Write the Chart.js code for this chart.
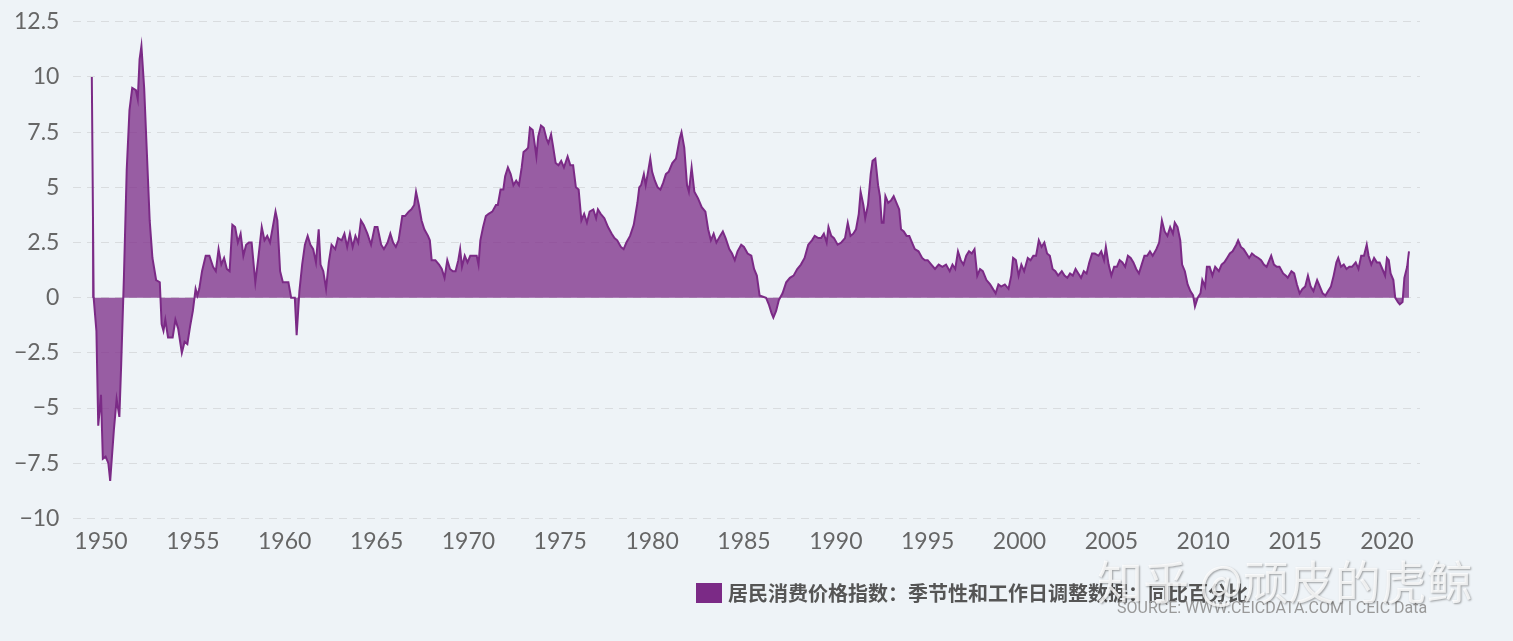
<!DOCTYPE html>
<html><head><meta charset="utf-8">
<script src="https://cdn.jsdelivr.net/npm/chart.js@4"></script>
<style>
html,body{margin:0;padding:0;background:#eef3f7;width:1513px;height:641px;overflow:hidden;font-family:"Noto Sans CJK SC","Noto Sans",sans-serif;}
#wrap{position:absolute;left:0;top:-6px;width:1513px;height:653px;}
#legend{position:absolute;left:696px;top:578px;font-size:20px;font-weight:bold;color:#555;display:flex;align-items:center;}
#legend span.sw{display:inline-block;width:26px;height:20px;background:#7b2a86;margin-right:6px;}
#src{position:absolute;left:1117px;top:598px;font-size:16px;color:#999;font-family:"Liberation Sans Narrow","Roboto",sans-serif;}
#wm{position:absolute;left:1097px;top:546px;font-size:46px;color:rgba(255,255,255,0.8);text-shadow:1px 1px 2px rgba(0,0,0,0.35);}
</style></head><body>
<div id="wrap"><canvas id="c" width="1513" height="653"></canvas></div>
<div id="legend"><span class="sw"></span>居民消费价格指数：季节性和工作日调整数据：同比百分比</div>
<div id="src">SOURCE: WWW.CEICDATA.COM | CEIC Data</div>
<div id="wm">知乎 @顽皮的虎鲸</div>
<script>
const years = [1949.5,1949.6,1949.75,1949.85,1950.0,1950.1,1950.25,1950.4,1950.5,1950.7,1950.85,1951.0,1951.1,1951.25,1951.4,1951.55,1951.7,1951.9,1952.0,1952.1,1952.2,1952.35,1952.5,1952.65,1952.8,1953.0,1953.2,1953.3,1953.4,1953.5,1953.65,1953.9,1954.05,1954.2,1954.4,1954.55,1954.7,1954.85,1955.0,1955.15,1955.25,1955.35,1955.5,1955.7,1955.9,1956.1,1956.25,1956.4,1956.55,1956.7,1956.85,1957.0,1957.15,1957.3,1957.45,1957.6,1957.75,1957.9,1958.05,1958.2,1958.4,1958.55,1958.75,1958.9,1959.05,1959.2,1959.35,1959.5,1959.6,1959.75,1959.9,1960.2,1960.35,1960.55,1960.65,1960.8,1960.95,1961.1,1961.25,1961.4,1961.55,1961.7,1961.85,1961.95,1962.1,1962.25,1962.4,1962.55,1962.75,1962.9,1963.1,1963.25,1963.4,1963.55,1963.7,1963.85,1964.0,1964.15,1964.3,1964.5,1964.7,1964.9,1965.05,1965.25,1965.4,1965.6,1965.75,1965.9,1966.05,1966.2,1966.4,1966.55,1966.75,1966.9,1967.05,1967.15,1967.3,1967.45,1967.6,1967.8,1967.9,1968.0,1968.2,1968.4,1968.55,1968.7,1968.85,1969.0,1969.15,1969.3,1969.45,1969.55,1969.65,1969.8,1969.95,1970.1,1970.3,1970.45,1970.55,1970.65,1970.8,1970.95,1971.1,1971.3,1971.5,1971.6,1971.75,1971.9,1972.0,1972.15,1972.3,1972.45,1972.6,1972.75,1972.9,1973.0,1973.15,1973.25,1973.35,1973.5,1973.6,1973.7,1973.8,1973.95,1974.1,1974.25,1974.35,1974.5,1974.6,1974.75,1974.9,1975.05,1975.2,1975.4,1975.55,1975.7,1975.85,1976.0,1976.15,1976.3,1976.45,1976.6,1976.8,1976.95,1977.05,1977.2,1977.4,1977.6,1977.8,1977.95,1978.1,1978.3,1978.45,1978.6,1978.8,1979.0,1979.2,1979.3,1979.4,1979.55,1979.65,1979.8,1979.9,1980.0,1980.15,1980.3,1980.45,1980.6,1980.75,1980.9,1981.1,1981.3,1981.5,1981.6,1981.75,1981.9,1982.0,1982.15,1982.3,1982.5,1982.7,1982.9,1983.05,1983.2,1983.35,1983.5,1983.7,1983.85,1984.0,1984.2,1984.35,1984.5,1984.65,1984.85,1985.0,1985.2,1985.4,1985.55,1985.7,1985.85,1986.2,1986.35,1986.5,1986.6,1986.75,1986.9,1987.1,1987.3,1987.5,1987.7,1987.9,1988.1,1988.3,1988.5,1988.7,1988.85,1989.05,1989.2,1989.35,1989.5,1989.6,1989.75,1989.9,1990.1,1990.3,1990.5,1990.65,1990.8,1990.95,1991.1,1991.25,1991.35,1991.5,1991.6,1991.75,1991.9,1992.0,1992.15,1992.3,1992.4,1992.5,1992.6,1992.7,1992.85,1993.0,1993.15,1993.3,1993.45,1993.55,1993.7,1993.85,1994.0,1994.15,1994.3,1994.5,1994.7,1994.85,1995.0,1995.2,1995.4,1995.6,1995.8,1996.0,1996.2,1996.35,1996.5,1996.65,1996.8,1996.95,1997.1,1997.25,1997.4,1997.55,1997.7,1997.85,1998.0,1998.2,1998.4,1998.55,1998.7,1998.85,1999.0,1999.2,1999.4,1999.55,1999.65,1999.8,1999.95,2000.1,2000.25,2000.45,2000.6,2000.75,2000.9,2001.05,2001.2,2001.35,2001.5,2001.65,2001.8,2001.95,2002.1,2002.3,2002.45,2002.6,2002.75,2002.9,2003.05,2003.2,2003.35,2003.5,2003.65,2003.8,2003.95,2004.1,2004.3,2004.45,2004.6,2004.7,2004.85,2005.0,2005.15,2005.3,2005.45,2005.6,2005.75,2005.9,2006.05,2006.2,2006.35,2006.5,2006.65,2006.8,2006.95,2007.1,2007.25,2007.45,2007.6,2007.75,2007.9,2008.05,2008.2,2008.35,2008.45,2008.6,2008.75,2008.85,2009.0,2009.15,2009.3,2009.45,2009.55,2009.7,2009.85,2009.95,2010.1,2010.2,2010.35,2010.5,2010.65,2010.85,2011.0,2011.15,2011.3,2011.45,2011.6,2011.8,2011.9,2012.05,2012.2,2012.35,2012.5,2012.65,2012.8,2013.0,2013.15,2013.3,2013.45,2013.6,2013.7,2013.85,2014.0,2014.15,2014.35,2014.5,2014.6,2014.8,2014.95,2015.1,2015.25,2015.4,2015.55,2015.7,2015.85,2016.0,2016.2,2016.35,2016.5,2016.65,2016.8,2016.95,2017.1,2017.25,2017.35,2017.5,2017.65,2017.8,2017.95,2018.1,2018.3,2018.45,2018.6,2018.75,2018.9,2019.0,2019.15,2019.3,2019.45,2019.6,2019.75,2019.9,2020.0,2020.1,2020.2,2020.35,2020.45,2020.6,2020.7,2020.85,2020.95,2021.1,2021.2];
const cpiYoY = [10.0,0,-1.5,-5.8,-4.4,-7.3,-7.2,-7.5,-8.3,-6.0,-4.6,-5.4,-3,1,5.8,8.5,9.5,9.4,9.0,10.8,11.4,9.5,6.5,3.5,1.8,0.8,0.7,-1.2,-1.5,-1.0,-1.8,-1.8,-1.0,-1.4,-2.5,-2.0,-2.1,-1.3,-0.6,0.4,0.1,0.4,1.2,1.9,1.9,1.4,1.2,2.2,1.5,1.8,1.3,1.2,3.3,3.2,2.5,2.9,1.9,2.4,2.5,2.5,0.7,1.7,3.2,2.6,2.8,2.5,3.2,3.9,3.5,1.2,0.7,0.7,0,0,-1.7,0.3,1.5,2.4,2.8,2.4,2.2,1.6,3.1,1.5,1.2,0.4,1.6,2.4,2.2,2.7,2.6,2.9,2.3,2.9,2.3,2.8,2.5,3.5,3.3,2.9,2.4,3.2,3.2,2.4,2.2,2.5,2.9,2.5,2.3,2.6,3.7,3.7,3.9,4.0,4.2,4.8,4.2,3.5,3.1,2.8,2.6,1.7,1.7,1.5,1.3,0.9,1.7,1.3,1.2,1.2,1.7,2.2,1.4,1.9,1.6,1.9,1.9,1.9,1.5,2.6,3.2,3.7,3.8,3.9,4.2,4.2,4.9,4.9,5.5,5.9,5.6,5.1,5.3,5.1,5.9,6.6,6.7,6.8,7.7,7.6,7.0,6.4,7.3,7.8,7.7,7.2,7.0,7.4,6.9,6.1,6.0,6.2,5.9,6.4,6.0,6.0,5.0,4.9,3.5,3.8,3.4,3.9,4.0,3.6,4.0,3.8,3.6,3.2,2.9,2.7,2.6,2.3,2.2,2.5,2.8,3.3,4.3,5.0,5.1,5.6,5.1,5.8,6.3,5.7,5.3,5.0,4.9,5.2,5.6,5.7,6.1,6.3,7.2,7.5,6.8,5.1,4.8,5.9,4.8,4.5,4.1,3.9,3.1,2.6,2.9,2.5,2.8,3.0,2.7,2.2,2.0,1.7,2.1,2.4,2.3,2.0,1.9,1.3,1.0,0.1,0.0,-0.3,-0.7,-0.9,-0.6,-0.1,0.2,0.7,0.9,1.0,1.3,1.5,1.8,2.4,2.6,2.8,2.7,2.7,2.9,2.5,3.2,2.8,2.7,2.4,2.5,2.7,3.4,2.8,2.9,3.1,3.8,4.8,4.2,3.6,4.2,5.6,6.2,6.3,5.1,4.6,3.4,3.4,4.6,4.3,4.4,4.6,4.3,4.0,3.1,3.0,2.8,2.8,2.5,2.2,2.1,1.8,1.7,1.7,1.5,1.3,1.5,1.4,1.5,1.2,1.5,1.3,2.1,1.7,1.5,1.9,2.1,2.0,2.2,1.0,1.3,1.2,0.8,0.6,0.4,0.2,0.6,0.5,0.6,0.4,1.0,1.8,1.7,1.0,1.5,1.2,1.8,1.7,1.9,1.9,2.6,2.3,2.5,2.0,1.9,1.3,1.2,1.0,1.2,1.0,0.9,1.1,1.0,1.3,1.1,0.9,1.2,1.1,1.6,2.0,2.0,1.9,2.1,1.7,2.3,1.5,1.0,1.4,1.4,1.7,1.6,1.4,1.9,1.8,1.6,1.3,1.1,1.5,1.9,1.9,2.1,1.9,2.2,2.5,3.5,3.0,2.8,3.2,2.9,3.4,3.2,2.6,1.5,1.2,0.6,0.3,0.1,-0.4,0,0.2,0.8,0.5,1.4,1.4,1.0,1.4,1.2,1.5,1.6,1.8,2.0,2.1,2.4,2.6,2.3,2.2,2.0,1.8,2.0,1.9,1.8,1.7,1.5,1.4,1.7,1.9,1.5,1.4,1.4,1.1,1.0,0.9,1.2,1.1,0.6,0.2,0.4,0.5,1.0,0.5,0.3,0.8,0.5,0.2,0.1,0.3,0.5,1.0,1.6,1.8,1.4,1.5,1.3,1.4,1.4,1.6,1.3,1.9,1.9,2.4,1.9,1.5,1.8,1.6,1.6,1.3,1.0,1.8,1.7,1.1,0.8,0,-0.2,-0.3,-0.2,0.9,1.4,2.1];
const yTicks = [-10,-7.5,-5,-2.5,0,2.5,5,7.5,10,12.5];
const xTicks = [1950,1955,1960,1965,1970,1975,1980,1985,1990,1995,2000,2005,2010,2015,2020];
const seriesName = '居民消费价格指数：季节性和工作日调整数据：同比百分比';

const pts = years.map((y,i)=>({x:y,y:cpiYoY[i]}));
const bgPlugin = {id:'bg',beforeDraw(c){const g=c.ctx;g.save();g.fillStyle='#eef3f7';g.fillRect(0,0,c.width,c.height);g.restore();}};
new Chart(document.getElementById('c'),{
  type:'line',
  data:{datasets:[{label:seriesName,data:pts,borderColor:'#7b2a86',borderWidth:2,backgroundColor:'rgba(128,50,140,0.78)',fill:'origin',pointRadius:0,tension:0}]},
  options:{
    responsive:false,animation:false,
    layout:{padding:{left:0,right:93,top:1,bottom:91}},
    plugins:{legend:{display:false},tooltip:{enabled:false}},
    scales:{
      x:{type:'linear',min:1948.5,max:2021.8,
        afterBuildTicks(a){a.ticks=xTicks.map(v=>({value:v}));},
        ticks:{font:{family:'Lato',size:23},color:'#666',padding:1,callback:v=>String(v),maxRotation:0},
        grid:{display:false},border:{display:false}},
      y:{min:-10,max:12.5,
        afterBuildTicks(a){a.ticks=yTicks.map(v=>({value:v}));},
        ticks:{font:{family:'Lato',size:23},color:'#666',padding:14,callback:v=>String(v).replace('-','\u2212')},
        grid:{color:'#d9dcdf',lineWidth:1,drawTicks:false},border:{display:false,dash:[8,6]}}
    }
  },
  plugins:[bgPlugin]
});
</script>
</body></html>
